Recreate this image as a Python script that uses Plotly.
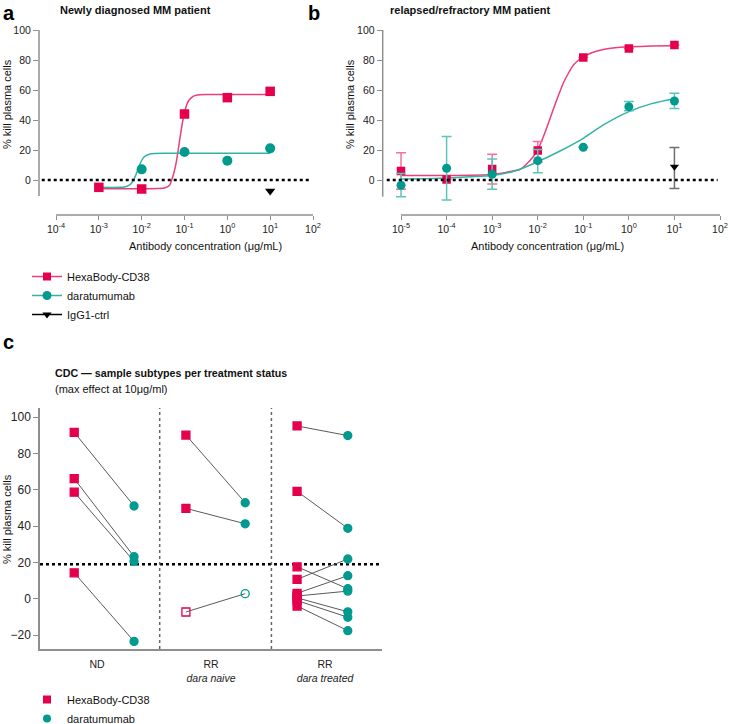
import numpy as np
import plotly.graph_objects as go

W, H = 729, 724
PINK = '#E4004F'
PINK_L = '#EC3F74'
PINK_E = '#F07399'
TEAL = '#009B8E'
TEAL_L = '#33B3A8'
TEAL_E = '#5CC4BA'
GREY = '#8F8F8F'
FONT = 'Liberation Sans, Arial, Helvetica, sans-serif'

# ---------------- Panel a : newly diagnosed ----------------
a_conc_hexa = [1e-3, 1e-2, 1e-1, 1, 10]
a_hexa = [-4.9, -6.0, 44.0, 54.9, 59.1]
a_conc_dara = [1e-2, 1e-1, 1, 10]
a_dara = [7.1, 18.7, 12.9, 21.1]
a_conc_igg = [10]
a_igg = [-7.3]
# fitted curves (log10 concentration, % kill)
a_fit_hexa_logc = [-3, -2, -1.6, -1.45, -1.35, -1.3, -1.25, -1.2, -1.15, -1.1, -1.05, -1.0, -0.95, -0.9, -0.8, -0.7, -0.5, 0, 1]
a_fit_hexa = [-5.8, -5.8, -5.7, -5.2, -3.5, 0, 4.5, 10.7, 19.5, 29, 38, 45, 50, 53, 55.8, 56.7, 57, 57, 57]
a_fit_dara_logc = [-3, -2.5, -2.4, -2.3, -2.25, -2.2, -2.15, -2.1, -2.05, -2.0, -1.95, -1.9, -1.8, -1.7, -1.5, 1]
a_fit_dara = [-4.9, -4.9, -4.6, -3.6, -2.5, -0.5, 2.4, 6.1, 9.9, 13.0, 15.1, 16.3, 17.4, 17.7, 17.8, 17.8]

# ---------------- Panel b : relapsed/refractory ----------------
b_conc = [1e-5, 1e-4, 1e-3, 1e-2, 1e-1, 1, 10]
b_hexa = [6.0, 0.3, 7.3, 19.6, 81.6, 87.6, 90.0]
b_hexa_hi = [18.2, None, 17.1, 25.6, None, None, None]
b_hexa_lo = [-6.2, None, -2.7, 12.0, None, None, None]
b_dara = [-3.5, 7.8, 3.8, 12.9, 21.8, 48.9, 52.7]
b_dara_hi = [4.4, 29.0, 14.0, 20.4, None, 52.4, 57.8]
b_dara_lo = [-11.1, -13.3, -6.2, 4.9, None, 46.2, 47.6]
b_conc_igg = [10]
b_igg = [8.9]
b_igg_hi = [21.6]
b_igg_lo = [-5.6]
b_fit_hexa_logc = [-5, -4, -3.5, -3, -2.7, -2.5, -2.39, -2.25, -2.1, -2.0, -1.9, -1.8, -1.66, -1.55, -1.44, -1.33, -1.22, -1.1, -1.0, -0.8, -0.56, -0.3, 0, 0.5, 1]
b_fit_hexa = [3.0, 3.0, 3.1, 3.6, 5.0, 6.3, 7.0, 10.5, 15.5, 20.0, 27.0, 35.0, 47.0, 56.0, 64.5, 71.0, 76.5, 80.0, 82.0, 85.0, 87.0, 88.2, 88.8, 89.3, 89.5]
b_fit_dara_logc = [-5, -4.5, -4, -3.5, -3, -2.5, -2, -1.5, -1, -0.56, 0, 0.52, 1]
b_fit_dara = [0.7, 0.9, 1.3, 2.1, 3.0, 6.0, 12.2, 19.5, 27.8, 36.7, 45.6, 51.1, 54.2]

# ---------------- Panel c : CDC per treatment status ----------------
c_groups = ['ND', 'RR<br><i>dara naive</i>', 'RR<br><i>dara treated</i>']
c_group_of_pair = [0, 0, 0, 0, 1, 1, 1, 2, 2, 2, 2, 2, 2, 2, 2, 2]
c_hexa = [91.7, 66.2, 58.7, 14.3, 90.2, 49.8, -7.3, 95.2, 59.2, 17.6, 10.7, 3.0, 1.5, 0.5, -1.0, -4.0]
c_dara = [51.1, 23.2, 20.6, -23.5, 52.9, 41.3, 2.8, 89.9, 38.8, 5.5, 21.9, 12.7, 4.2, -7.2, -10.2, -17.6]
c_open = [False, False, False, False, False, False, True, False, False, False, False, False, False, False, False, False]
c_threshold = 19

# layout constants (pixel based)
HEXA_OFF = [-0.20, -0.22, -0.245]
DARA_OFF = [0.325, 0.30, 0.20]

fig = go.Figure()


def px_x(p):
    return p / W


def px_y(p):
    return 1 - p / H


# ---- panel a traces ----
fig.add_trace(go.Scatter(x=np.power(10.0, a_fit_hexa_logc), y=a_fit_hexa, mode='lines',
                         line=dict(color=PINK_L, width=1.5, shape='spline', smoothing=0.6),
                         xaxis='x', yaxis='y', showlegend=False, hoverinfo='skip'))
fig.add_trace(go.Scatter(x=np.power(10.0, a_fit_dara_logc), y=a_fit_dara, mode='lines',
                         line=dict(color=TEAL_L, width=1.5, shape='spline', smoothing=0.6),
                         xaxis='x', yaxis='y', showlegend=False, hoverinfo='skip'))
fig.add_trace(go.Scatter(x=a_conc_hexa, y=a_hexa, mode='markers',
                         marker=dict(symbol='square', size=9.5, color=PINK),
                         xaxis='x', yaxis='y', showlegend=False))
fig.add_trace(go.Scatter(x=a_conc_dara, y=a_dara, mode='markers',
                         marker=dict(symbol='circle', size=10, color=TEAL),
                         xaxis='x', yaxis='y', showlegend=False))
fig.add_trace(go.Scatter(x=a_conc_igg, y=a_igg, mode='markers',
                         marker=dict(symbol='triangle-down', size=9, color='black'),
                         xaxis='x', yaxis='y', showlegend=False))


def err(vals, hi, lo):
    plus = [None if h is None else h - v for v, h in zip(vals, hi)]
    minus = [None if l is None else v - l for v, l in zip(vals, lo)]
    return plus, minus


# ---- panel b traces ----
fig.add_trace(go.Scatter(x=np.power(10.0, b_fit_hexa_logc), y=b_fit_hexa, mode='lines',
                         line=dict(color=PINK_L, width=1.5, shape='spline', smoothing=0.6),
                         xaxis='x2', yaxis='y2', showlegend=False, hoverinfo='skip'))
fig.add_trace(go.Scatter(x=np.power(10.0, b_fit_dara_logc), y=b_fit_dara, mode='lines',
                         line=dict(color=TEAL_L, width=1.5, shape='spline', smoothing=0.6),
                         xaxis='x2', yaxis='y2', showlegend=False, hoverinfo='skip'))
p, m = err(b_hexa, b_hexa_hi, b_hexa_lo)
fig.add_trace(go.Scatter(x=b_conc, y=b_hexa, mode='markers',
                         marker=dict(symbol='square', size=8.5, color=PINK),
                         error_y=dict(type='data', symmetric=False, array=p, arrayminus=m,
                                      color=PINK_E, thickness=1.5, width=5),
                         xaxis='x2', yaxis='y2', showlegend=False))
p, m = err(b_dara, b_dara_hi, b_dara_lo)
fig.add_trace(go.Scatter(x=b_conc, y=b_dara, mode='markers',
                         marker=dict(symbol='circle', size=9, color=TEAL),
                         error_y=dict(type='data', symmetric=False, array=p, arrayminus=m,
                                      color=TEAL_E, thickness=1.5, width=5),
                         xaxis='x2', yaxis='y2', showlegend=False))
p, m = err(b_igg, b_igg_hi, b_igg_lo)
fig.add_trace(go.Scatter(x=b_conc_igg, y=b_igg, mode='markers',
                         marker=dict(symbol='triangle-down', size=8, color='black'),
                         error_y=dict(type='data', symmetric=False, array=p, arrayminus=m,
                                      color='#6E6E6E', thickness=1.5, width=5),
                         xaxis='x2', yaxis='y2', showlegend=False))

# ---- panel c traces ----
hx = [g + HEXA_OFF[g] for g in c_group_of_pair]
dx = [g + DARA_OFF[g] for g in c_group_of_pair]
lx, ly = [], []
for i in range(len(c_hexa)):
    lx += [hx[i], dx[i], None]
    ly += [c_hexa[i], c_dara[i], None]
fig.add_trace(go.Scatter(x=lx, y=ly, mode='lines', line=dict(color='#5A5A5A', width=1),
                         xaxis='x3', yaxis='y3', showlegend=False, hoverinfo='skip'))
fig.add_trace(go.Scatter(x=hx, y=c_hexa, mode='markers',
                         marker=dict(symbol=['square-open' if o else 'square' for o in c_open],
                                     size=8, color=PINK, line=dict(color=PINK, width=1.3)),
                         xaxis='x3', yaxis='y3', showlegend=False))
fig.add_trace(go.Scatter(x=dx, y=c_dara, mode='markers',
                         marker=dict(symbol=['circle-open' if o else 'circle' for o in c_open],
                                     size=8, color=TEAL, line=dict(color=TEAL, width=1.3)),
                         xaxis='x3', yaxis='y3', showlegend=False))

# ---- legends (entries only) ----
fig.add_trace(go.Scatter(x=[None], y=[None], mode='lines+markers', name='HexaBody-CD38',
                         line=dict(color=PINK_L, width=1.5), marker=dict(symbol='square', size=8, color=PINK),
                         legend='legend'))
fig.add_trace(go.Scatter(x=[None], y=[None], mode='lines+markers', name='daratumumab',
                         line=dict(color=TEAL_L, width=1.5), marker=dict(symbol='circle', size=9, color=TEAL),
                         legend='legend'))
fig.add_trace(go.Scatter(x=[None], y=[None], mode='lines+markers', name='IgG1-ctrl',
                         line=dict(color='black', width=1.5), marker=dict(symbol='triangle-down', size=8, color='black'),
                         legend='legend'))
fig.add_trace(go.Scatter(x=[None], y=[None], mode='markers', name='HexaBody-CD38',
                         marker=dict(symbol='square', size=8, color=PINK), legend='legend2'))
fig.add_trace(go.Scatter(x=[None], y=[None], mode='markers', name='daratumumab',
                         marker=dict(symbol='circle', size=8, color=TEAL), legend='legend2'))

# ---- axes ----
A_XR = [-4.397, 2]
B_XR = [-5.402, 2]
AB_YR = [-23.33, 100]
ab_ydom = [px_y(215), px_y(30)]
tick_exp = lambda lo, hi: ([10.0 ** e for e in range(lo, hi + 1)],
                           ['10<sup>%d</sup>' % e for e in range(lo, hi + 1)])
a_tv, a_tt = tick_exp(-4, 2)
b_tv, b_tt = tick_exp(-5, 2)

common_x = dict(type='log', showline=False, ticks='outside', ticklen=4, tickwidth=1.2, tickcolor=GREY,
                showgrid=False, zeroline=False, automargin=False, tickfont=dict(size=10.5, color='#222'))
common_y = dict(showline=False, ticks='outside', ticklen=5, tickwidth=1.2, tickcolor=GREY,
                showgrid=False, zeroline=False, automargin=False, tickvals=[0, 20, 40, 60, 80, 100],
                tickfont=dict(size=10.5, color='#222'))

fig.update_layout(
    xaxis=dict(domain=[px_x(39), px_x(313)], range=A_XR, anchor='y', tickvals=a_tv, ticktext=a_tt, **common_x),
    yaxis=dict(domain=ab_ydom, range=AB_YR, anchor='x', **common_y),
    xaxis2=dict(domain=[px_x(382.7), px_x(720)], range=B_XR, anchor='y2', tickvals=b_tv, ticktext=b_tt, **common_x),
    yaxis2=dict(domain=ab_ydom, range=AB_YR, anchor='x2', **common_y),
    xaxis3=dict(domain=[px_x(40), px_x(382)], range=[-0.5, 2.5], anchor='y3', showline=True, linecolor=GREY,
                linewidth=1.5, ticks='outside', ticklen=5, tickcolor='rgba(0,0,0,0)', automargin=False,
                tickvals=[0, 1, 2], ticktext=c_groups, showgrid=False, zeroline=False,
                tickfont=dict(size=10.5, color='#222')),
    yaxis3=dict(domain=[px_y(649), px_y(408)], range=[-27.7, 105.1], anchor='x3', showline=True, linecolor=GREY,
                linewidth=1.5, ticks='outside', ticklen=5, tickwidth=1.2, tickcolor=GREY, automargin=False,
                tickvals=[-20, 0, 20, 40, 60, 80, 100], showgrid=False, zeroline=False,
                tickfont=dict(size=12, color='#222')),
)


def dom_frac(v, rng):
    return (v - rng[0]) / (rng[1] - rng[0])


shapes = []
# axis lines a / b
shapes.append(dict(type='line', xref='x domain', yref='paper', x0=dom_frac(-4, A_XR), x1=1,
                   y0=px_y(215), y1=px_y(215), line=dict(color=GREY, width=1.5)))
shapes.append(dict(type='line', xref='paper', yref='y', x0=px_x(39), x1=px_x(39), y0=-10.7, y1=100,
                   line=dict(color=GREY, width=1.5)))
shapes.append(dict(type='line', xref='x2 domain', yref='paper', x0=dom_frac(-5, B_XR), x1=1,
                   y0=px_y(215), y1=px_y(215), line=dict(color=GREY, width=1.5)))
shapes.append(dict(type='line', xref='paper', yref='y2', x0=px_x(382.7), x1=px_x(382.7), y0=-11.1, y1=100,
                   line=dict(color=GREY, width=1.5)))
# zero lines
shapes.append(dict(type='line', xref='x domain', yref='y', x0=0.01, x1=0.99, y0=0, y1=0,
                   line=dict(color='black', width=2.5, dash='dot')))
shapes.append(dict(type='line', xref='x2 domain', yref='y2', x0=0.012, x1=0.993, y0=0, y1=0,
                   line=dict(color='black', width=2.5, dash='dot')))
# panel c threshold and dividers
shapes.append(dict(type='line', xref='x3 domain', yref='y3', x0=0, x1=1, y0=c_threshold, y1=c_threshold,
                   line=dict(color='black', width=2.5, dash='dot'), layer='below'))
for xv in [0.55, 1.53]:
    shapes.append(dict(type='line', xref='x3', yref='y3 domain', x0=xv, x1=xv, y0=0, y1=1,
                       line=dict(color='#666', width=1.5, dash='dot'), layer='below'))

ann = []


def text(x, y, s, size=11, xanchor='left', angle=0, color='#111'):
    ann.append(dict(x=px_x(x), y=px_y(y), xref='paper', yref='paper', text=s, showarrow=False,
                    xanchor=xanchor, yanchor='middle', textangle=angle, font=dict(size=size, color=color)))


text(1, 13, '<b>a</b>', size=20, color='black')
text(306, 13, '<b>b</b>', size=20, color='black')
text(1, 342, '<b>c</b>', size=20, color='black')
text(58, 10, '<b>Newly diagnosed MM patient</b>', size=11)
text(388, 10, '<b>relapsed/refractory MM patient</b>', size=11)
text(7, 104, '% kill plasma cells', size=11, xanchor='center', angle=-90)
text(350, 104, '% kill plasma cells', size=11, xanchor='center', angle=-90)
text(7, 519, '% kill plasma cells', size=11, xanchor='center', angle=-90)
text(205, 246, 'Antibody concentration (μg/mL)', size=11, xanchor='center')
text(547, 246, 'Antibody concentration (μg/mL)', size=11, xanchor='center')
text(53, 373, '<b>CDC — sample subtypes per treatment status</b>', size=10.7)
text(53, 389, '(max effect at 10μg/ml)', size=11)

fig.update_layout(
    width=W, height=H, autosize=False,
    margin=dict(l=0, r=0, t=0, b=0, pad=0, autoexpand=False),
    paper_bgcolor='white', plot_bgcolor='white',
    font=dict(family=FONT, size=11, color='#111'),
    shapes=shapes, annotations=ann,
    legend=dict(x=px_x(27), y=px_y(262), xanchor='left', yanchor='top', bgcolor='rgba(0,0,0,0)',
                font=dict(size=11, color='#111'), tracegroupgap=0, itemwidth=30),
    legend2=dict(x=px_x(27), y=px_y(685), xanchor='left', yanchor='top', bgcolor='rgba(0,0,0,0)',
                 font=dict(size=11, color='#111'), tracegroupgap=0, itemwidth=30),
)

fig.write_html('out.html', config={'displayModeBar': False, 'responsive': False},
               post_script="document.body.style.margin='0';document.body.style.padding='0';"
                           "document.body.style.overflow='hidden';")
